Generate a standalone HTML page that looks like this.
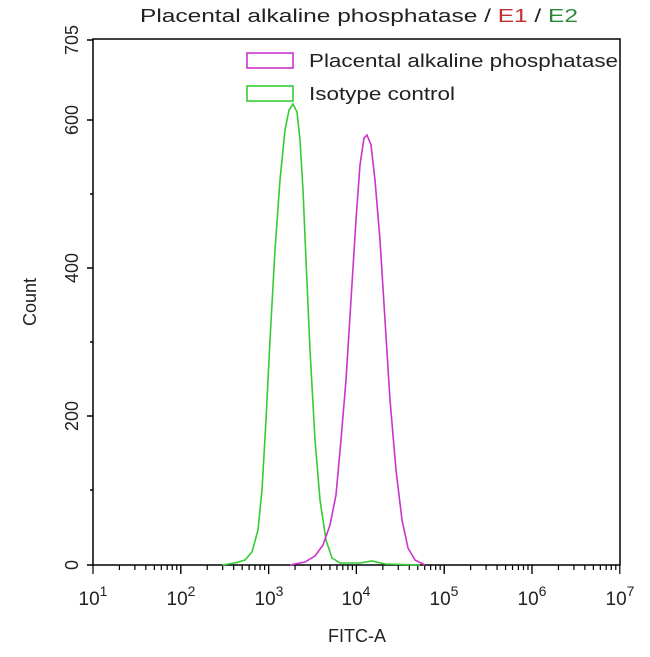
<!DOCTYPE html>
<html><head><style>body{margin:0;background:#fff}svg{display:block}text{font-family:"Liberation Sans",sans-serif}</style></head>
<body>
<svg width="650" height="657" viewBox="0 0 650 657">
<text x="140" y="22" font-size="18" fill="#222" textLength="438" lengthAdjust="spacingAndGlyphs">Placental alkaline phosphatase / <tspan fill="#c03030">E1</tspan> / <tspan fill="#2a8a3a">E2</tspan></text>
<rect x="93" y="39" width="527" height="526" fill="none" stroke="#000" stroke-width="1.5"/>
<g font-size="18" fill="#222" text-anchor="middle">
<text transform="translate(72,40) rotate(-90)" dy="6">705</text>
<text transform="translate(72,120) rotate(-90)" dy="6">600</text>
<text transform="translate(72,268) rotate(-90)" dy="6">400</text>
<text transform="translate(72,416) rotate(-90)" dy="6">200</text>
<text transform="translate(72,565) rotate(-90)" dy="6">0</text>
<text transform="translate(30,302) rotate(-90)" dy="6">Count</text>
<text x="357" y="642">FITC-A</text>
</g>
<g stroke="#000" stroke-width="1.5">
<line x1="87" y1="120" x2="93" y2="120"/><line x1="87" y1="268" x2="93" y2="268"/><line x1="87" y1="416" x2="93" y2="416"/><line x1="87" y1="565" x2="93" y2="565"/><line x1="87" y1="40" x2="93" y2="40"/>
<line x1="90" y1="194" x2="93" y2="194"/><line x1="90" y1="342" x2="93" y2="342"/><line x1="90" y1="490" x2="93" y2="490"/>
</g>
<g id="ticks" stroke="#000" stroke-width="1.2"></g>
<g font-size="19" fill="#222" text-anchor="middle">
<text x="93" y="605">10<tspan font-size="14" dy="-9">1</tspan></text>
<text x="181" y="605">10<tspan font-size="14" dy="-9">2</tspan></text>
<text x="269" y="605">10<tspan font-size="14" dy="-9">3</tspan></text>
<text x="356" y="605">10<tspan font-size="14" dy="-9">4</tspan></text>
<text x="444" y="605">10<tspan font-size="14" dy="-9">5</tspan></text>
<text x="532" y="605">10<tspan font-size="14" dy="-9">6</tspan></text>
<text x="620" y="605">10<tspan font-size="14" dy="-9">7</tspan></text>
</g>
<path fill="none" stroke="#3c3" stroke-width="1.6" d="M222,565 L235,563 L245,560 L252,552 L258,530 L262,490 L266,420 L270,340 L275,250 L280,180 L285,130 L289,110 L293,104 L297,112 L300,140 L303,190 L306,260 L310,350 L315,440 L320,500 L326,540 L332,558 L340,563 L360,563 L372,561 L385,564 L420,565"/>
<path fill="none" stroke="#c3c" stroke-width="1.6" d="M290,565 L305,562 L315,556 L323,545 L330,525 L336,495 L341,440 L346,380 L351,300 L356,220 L360,165 L364,138 L367,135 L371,145 L375,180 L380,240 L385,320 L390,400 L396,470 L402,520 L408,548 L415,560 L425,565"/>
<rect x="247" y="53" width="46" height="15" fill="none" stroke="#c3c" stroke-width="1.6"/>
<rect x="247" y="86" width="46" height="15" fill="none" stroke="#3c3" stroke-width="1.6"/>
<g font-size="18" fill="#222"><text x="309" y="67" textLength="309" lengthAdjust="spacingAndGlyphs">Placental alkaline phosphatase</text><text x="309" y="100" textLength="146" lengthAdjust="spacingAndGlyphs">Isotype control</text></g>
<script>
var g=document.getElementById('ticks'),ns="http://www.w3.org/2000/svg";
var x0=93,d=87.8;
for(var k=0;k<6;k++){for(var m=1;m<=10;m++){var x=x0+d*(k+Math.log10(m));var l=document.createElementNS(ns,'line');l.setAttribute('x1',x);l.setAttribute('x2',x);l.setAttribute('y1',565);l.setAttribute('y2',(m==1||m==10)?574:570);g.appendChild(l);}}
</script>
</svg>
</body></html>
